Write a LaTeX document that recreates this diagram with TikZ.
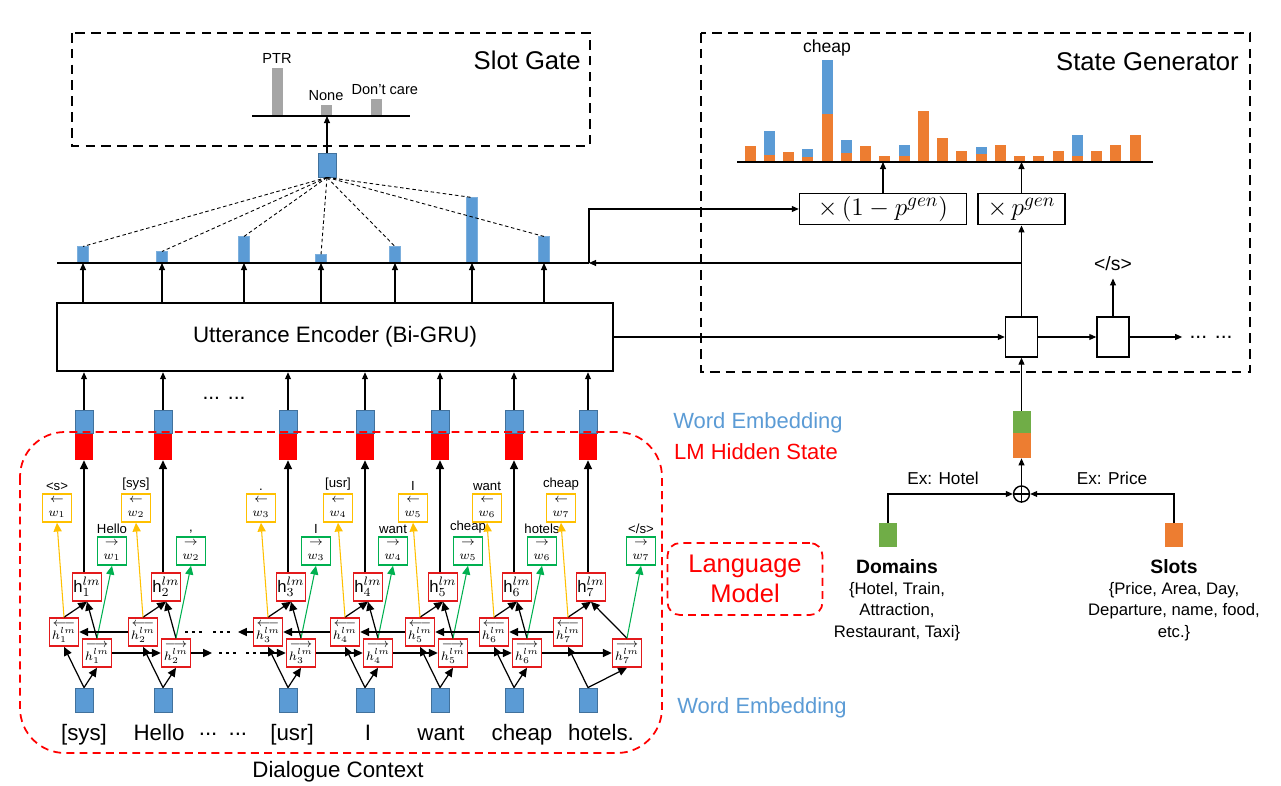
\documentclass[tikz,border=0pt]{standalone}
\usepackage{fontspec}
\setmainfont{Liberation Sans}
\usetikzlibrary{arrows.meta,positioning}

\definecolor{embblue}{HTML}{5B9BD5}
\definecolor{embedge}{HTML}{41719C}
\definecolor{slotorange}{HTML}{ED7D31}
\definecolor{domgreen}{HTML}{70AD47}
\definecolor{lmred}{HTML}{FF0000}
\definecolor{boxred}{HTML}{E31A1C}
\definecolor{bwdyellow}{HTML}{FFC000}
\definecolor{fwdgreen}{HTML}{00B050}
\definecolor{gategray}{HTML}{A5A5A5}

\tikzset{
  every node/.style={inner sep=0pt},
  arr/.style={-{Triangle[length=4pt,width=3.4pt]}, line width=0.6pt},
  lmarr/.style={-{Triangle[length=5pt,width=4.6pt]}, line width=0.7pt},
  yarr/.style={lmarr, draw=bwdyellow, line width=0.6pt},
  garr/.style={lmarr, draw=fwdgreen, line width=0.6pt},
  gatebox/.style={line width=1.3pt, dash pattern=on 5.5pt off 3.5pt},
  lmdash/.style={draw=lmred, line width=1pt, dash pattern=on 4.5pt off 3pt},
  lmdots/.style={line width=1.7pt, dash pattern=on 1.7pt off 2.27pt},
  attline/.style={line width=0.5pt, dash pattern=on 2pt off 1.5pt},
  embsq/.style={rectangle, fill=embblue, draw=embedge, line width=0.5pt, minimum width=0.36cm, minimum height=0.48cm},
  topsq/.style={embsq, minimum height=0.46cm},
  lmsq/.style={rectangle, fill=lmred, minimum width=0.36cm, minimum height=0.52cm},
  attbar/.style={rectangle, fill=embblue, draw=embblue!80, line width=0.3pt, minimum width=0.21cm, anchor=south},
  gbar/.style={rectangle, fill=gategray, minimum width=0.22cm, anchor=south},
  lmbox/.style={rectangle, draw=boxred, line width=0.9pt, fill=white, minimum width=0.58cm, minimum height=0.56cm, align=center, font=\fontsize{7.5}{7.5}\selectfont},
  bwbox/.style={lmbox, draw=bwdyellow},
  fwbox/.style={lmbox, draw=fwdgreen},
  lmword/.style={font=\fontsize{7.5}{9}\selectfont, inner sep=1.5pt},
  gword/.style={font=\fontsize{8.3}{10}\selectfont},
  decbox/.style={rectangle, draw, line width=0.8pt, fill=white, minimum width=0.64cm, minimum height=0.8cm},
  genbox/.style={rectangle, draw, line width=0.8pt, minimum height=0.62cm, font=\fontsize{15}{18}\selectfont},
  title/.style={font=\fontsize{14.6}{17}\selectfont},
  encbox/.style={rectangle, draw, line width=1.4pt, minimum width=11.12cm, minimum height=1.36cm, font=\fontsize{12.7}{15}\selectfont},
  wordtext/.style={font=\fontsize{12.7}{15}\selectfont, anchor=base},
  dotstext/.style={font=\fontsize{12}{14}\selectfont},
  sidetext/.style={font=\fontsize{12.5}{15}\selectfont},
  exlab/.style={font=\fontsize{9.8}{12}\selectfont},
  catname/.style={font=\fontsize{11}{13}\selectfont\bfseries},
  catlist/.style={align=center, font=\fontsize{9.5}{12.2}\selectfont}
}

\begin{document}
\begin{tikzpicture}[x=0.02cm, y=-0.02cm]
\useasboundingbox (0,0) rectangle (1281,786);

\draw[gatebox] (72,33) rectangle (590,146);
\node[title, anchor=east] (gatetitle) at (581,60) {Slot Gate};
\coordinate (gl) at (252,116);
\coordinate (gr) at (410,116);
\node[gbar, minimum height=0.96cm] (ptr) at (277,116) {};
\node[gbar, minimum height=0.22cm] (none) at (326,116) {};
\node[gbar, minimum height=0.34cm] (dcare) at (376,116) {};
\draw[line width=1.2pt] (gl) -- (gr);
\node[gword, above=2pt of ptr] (ptrlab) {PTR};
\node[gword, above=2pt of none] (nonelab) {None};
\node[gword, above=2pt of dcare, xshift=5pt] (dcarelab) {Don't care};

\node[embsq] (ctx) at (327,165) {};
\draw[arr] (ctx.north) -- (ctx.north |- gl);

\node[encbox] (enc) at (335,337) {Utterance Encoder (Bi-GRU)};
\foreach \j/\x/\hgt in {1/83/0.32, 2/162/0.22, 3/244/0.52, 4/321/0.16, 5/395/0.32, 6/472/1.3, 7/544/0.52} {
  \node[attbar, minimum height=\hgt cm] (a\j) at (\x,263) {};
  \draw[attline] (ctx.south) -- (a\j.north);
  \draw[arr] (a\j.south |- enc.north) -- (a\j.south);
}
\coordinate (al) at (57,263);
\coordinate (ar) at (589,263);
\draw[line width=1.2pt] (al) -- (ar);
\node[dotstext] (encdots) at (224,398) {... ...};

\foreach \i/\c/\fo/\wo/\bt/\ft in {1/84/13/28/{<s>}/{Hello}, 2/163/13/28/{[sys]}/{,}, 3/288/13/28/{.}/{I}, 4/365/13/28/{[usr]}/{want}, 5/440/13/28/{I}/{cheap}, 6/514/13/28/{want}/{hotels}, 7/588/39/53/{cheap}/{</s>}} {
  \node[embsq] (e\i) at (\c,700) {};
  \node[topsq] (we\i) at (\c,422) {};
  \node[lmsq] (lh\i) at (\c,447) {};
  \node[lmbox] (bh\i) at (\c-20,632) {$\longleftarrow$\\$h^{lm}_{\i}$};
  \node[lmbox] (fh\i) at (\c+\fo,653) {$\longrightarrow$\\$h^{lm}_{\i}$};
  \node[lmbox, font=\fontsize{9.5}{10}\selectfont] (h\i) at (\c+3,587) {$\mathrm{h}^{lm}_{\i}$};
  \node[bwbox, label={[lmword]above:\bt}] (bw\i) at (\c-27,508) {$\leftarrow$\\$w_{\i}$};
  \node[fwbox, label={[lmword]above:\ft}] (fw\i) at (\c+\wo,551) {$\rightarrow$\\$w_{\i}$};
  \draw[lmarr] (e\i.north) -- (bh\i.south);
  \draw[lmarr] (e\i.north) -- (fh\i.south);
  \draw[lmarr] (bh\i.north) -- (h\i.south);
  \draw[lmarr] (fh\i.north) -- (h\i.south);
  \draw[yarr] (bh\i.north) -- (bw\i.south);
  \draw[garr] (fh\i.north) -- (fw\i.south);
  \draw[lmarr] (h\i.north -| lh\i) -- (lh\i.south);
  \draw[arr] (we\i.north) -- (we\i.north |- enc.south);
}
\foreach \a/\b in {2/1, 4/3, 5/4, 6/5, 7/6}
  \draw[lmarr] (bh\a.west) -- (bh\b.east);
\foreach \a/\b in {1/2, 3/4, 4/5, 5/6, 6/7}
  \draw[lmarr] (fh\a.east) -- (fh\b.west);
\coordinate (bdt) at (238,632);
\draw[lmarr] (bh3.west) -- (bdt);
\draw[lmdots] (185,632) -- (202,632) (213,632) -- (230,632);
\coordinate (fdt) at (212,653);
\coordinate (fde) at (263,653);
\draw[lmarr] (fh2.east) -- (fdt);
\draw[lmdots] (219,653) -- (236,653) (246,653) -- (263,653);
\draw[lmarr] (fde) -- (fh3.west);

\draw[lmdash, rounded corners=0.9cm] (20,432) rectangle (662,753);
\node[wordtext] (wsys) at (84,740) {[sys]};
\node[wordtext] (whello) at (159,740) {Hello};
\node[wordtext] (wdots) at (223,740) {\raisebox{0.35ex}{...}\enspace\raisebox{0.35ex}{...}};
\node[wordtext] (wusr) at (292,740) {[usr]};
\node[wordtext] (wi) at (368,740) {I};
\node[wordtext] (wwant) at (441,740) {want};
\node[wordtext] (wcheap) at (522,740) {cheap};
\node[wordtext] (whotels) at (601,740) {hotels.};
\node[wordtext] (dialog) at (338,777) {Dialogue Context};

\node[sidetext, text=embblue] (welab) at (758,423) {Word Embedding};
\node[sidetext, text=lmred] (lmlab) at (756,452) {LM Hidden State};
\node[sidetext, text=embblue] (welab2) at (762,708) {Word Embedding};
\node[lmdash, rectangle, rounded corners=0.25cm, minimum width=3.1cm, minimum height=1.44cm, align=center, text=lmred, font=\fontsize{14.5}{17}\selectfont] (lmtag) at (745,579) {Language\\Model};

\draw[gatebox] (701,33) rectangle (1250,372);
\node[title, anchor=east] (gentitle) at (1239,62) {State Generator};
\coordinate (vl) at (737,162);
\coordinate (vr) at (1153,162);
\foreach \k/\o in {1/16, 2/7, 3/10, 4/5, 5/48, 6/9, 7/16, 8/6, 9/6, 10/51, 11/24, 12/11, 13/8, 14/17, 15/6, 16/6, 17/11, 18/6, 19/11, 20/17, 21/27}
  \fill[slotorange] ({744.5+19.25*(\k-1)},162) rectangle ++(11,-\o);
\foreach \k/\o/\t in {2/7/31, 4/5/13, 5/48/102, 6/9/22, 9/6/17, 13/8/15, 18/6/27}
  \fill[embblue] ({744.5+19.25*(\k-1)},162-\o) rectangle ++(11,\o-\t);
\draw[line width=1.2pt] (vl) -- (vr);
\node[font=\fontsize{10}{12}\selectfont] (cheaplab) at (827,48) {cheap};

\node[genbox, minimum width=3.34cm] (pmx) at (883,209) {$\times\,(1-p^{gen})$};
\node[genbox, minimum width=1.74cm, line width=1.1pt] (px) at (1021.5,209) {$\times\,p^{gen}$};
\draw[arr] (pmx.north) -- (pmx.north |- vl);
\draw[arr] (px.north) -- (px.north |- vl);

\node[decbox] (dec1) at (1021.5,337) {};
\node[decbox] (dec2) at (1113,337) {};
\node[dotstext] (decdots) at (1211,337) {... ...};
\node[font=\fontsize{11}{13}\selectfont] (eos) at (1113,264) {</s>};
\draw[arr] (enc.east) -- (dec1.west);
\draw[arr] (dec1.east) -- (dec2.west);
\draw[arr] (dec2.east) -- ([xshift=-4pt]decdots.west);
\draw[arr, shorten >=4pt] (dec2.north) -- (eos.south);
\draw[arr] (dec1.north) -- (px.south);
\coordinate (jn) at (1021.5,263);
\draw[arr] (jn) -- (ar);
\draw[arr] (ar) |- (pmx.west);

\node[rectangle, fill=domgreen, minimum width=0.36cm, minimum height=0.44cm] (sg) at (1021.5,422) {};
\node[rectangle, fill=slotorange, minimum width=0.36cm, minimum height=0.5cm] (so) at (1021.5,445.5) {};
\node[circle, draw, line width=0.8pt, minimum size=0.32cm] (oplus) at (1021.5,494) {};
\draw[line width=0.8pt] (oplus.north) -- (oplus.south) (oplus.west) -- (oplus.east);
\draw[arr] (oplus.north) -- (so.south);
\draw[arr] (sg.north) -- (dec1.south);
\node[rectangle, fill=domgreen, minimum width=0.36cm, minimum height=0.48cm] (dom) at (888,535) {};
\node[rectangle, fill=slotorange, minimum width=0.36cm, minimum height=0.48cm] (slt) at (1174,535) {};
\draw[arr] (dom.north) |- (oplus.west);
\draw[arr] (slt.north) |- (oplus.east);
\node[exlab] (exhotel) at (943,478) {Ex: Hotel};
\node[exlab] (exprice) at (1112,478) {Ex: Price};
\node[catname] (domname) at (897,567) {Domains};
\node[catlist, anchor=north] (domlist) at (897,582) {\{Hotel, Train,\\Attraction,\\Restaurant, Taxi\}};
\node[catname] (sltname) at (1174,567) {Slots};
\node[catlist, anchor=north] (sltlist) at (1174,582) {\{Price, Area, Day,\\Departure, name, food,\\etc.\}};
\end{tikzpicture}
\end{document}
